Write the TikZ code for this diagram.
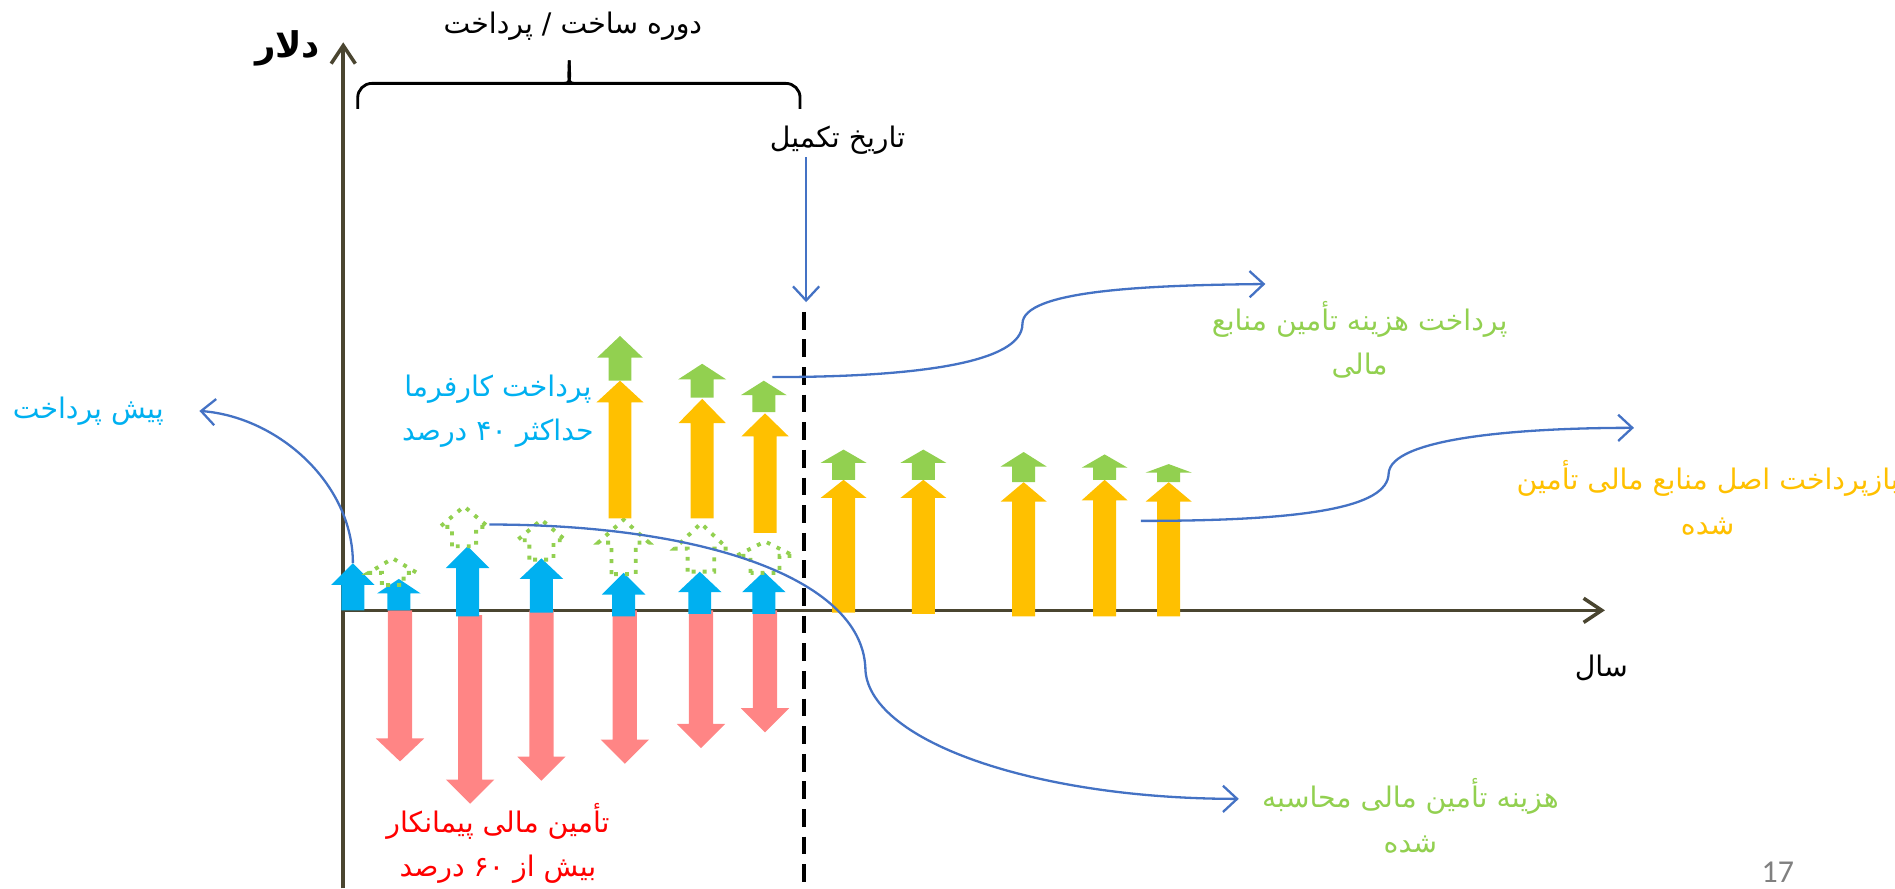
\documentclass[tikz,border=0pt]{standalone}
\usepackage{fontspec}
\newfontfamily\farsi[Script=Arabic]{DejaVu Sans}
\newfontfamily\slidefont{Carlito}
\TeXXeTstate=1
\usetikzlibrary{arrows.meta}
\definecolor{axiscol}{HTML}{4A4530}
\definecolor{payblue}{HTML}{00B0F0}
\definecolor{loanred}{HTML}{FF8585}
\definecolor{gold}{HTML}{FFC000}
\definecolor{leafgreen}{HTML}{92D050}
\definecolor{curveblue}{HTML}{4472C4}
\newcommand{\rtltext}[1]{\beginR #1\endR}
% #1 options, #2 x, #3 tail y, #4 head base y, #5 tip y, #6 head half width, #7 shaft half width
\newcommand{\blockarrow}[7]{\path[#1] (#2-#7,#3) -- (#2-#7,#4) -- (#2-#6,#4) -- (#2,#5) -- (#2+#6,#4) -- (#2+#7,#4) -- (#2+#7,#3) -- cycle;}
\tikzstyle{axisline} = [draw=axiscol, line width=1pt, -{Straight Barb[length=1.8mm,width=2.4mm]}]
\tikzstyle{pointer} = [draw=curveblue, line width=0.65pt, -{Straight Barb[length=1.4mm,width=2.6mm]}]
\tikzset{fatext/.style={font=\farsi\fontsize{8}{12.5}\selectfont, align=center, inner sep=0pt},
  dottedarrow/.style={draw=leafgreen, line width=1.1pt, dotted}}

\begin{document}
\begin{tikzpicture}[x=0.012cm, y=-0.012cm]
    \useasboundingbox (0,0) rectangle (1568,735);

    \coordinate (origin) at (284,505);
    \coordinate (ytop) at (284,35);
    \coordinate (ybot) at (284,735);
    \coordinate (xend) at (1328,505);
    \draw[axisline] (ybot) -- (ytop);
    \draw[axisline] (origin) -- (xend);

    % contractor financing
    \blockarrow{fill=loanred}{331}{505}{611}{630}{20}{10}
    \blockarrow{fill=loanred}{389}{509}{645}{665}{20}{10}
    \blockarrow{fill=loanred}{448}{505}{626}{646}{20}{10}
    \blockarrow{fill=loanred}{517}{505}{612}{632}{20}{10}
    \blockarrow{fill=loanred}{580}{505}{599}{619}{20}{10}
    \blockarrow{fill=loanred}{633}{505}{586}{606}{20}{10}

    % owner payments
    \blockarrow{fill=payblue}{292}{505}{484}{466}{18}{9.5}
    \blockarrow{fill=payblue}{330}{505}{491}{479}{18}{9.5}
    \blockarrow{fill=payblue}{387}{510}{470}{452}{18}{9.5}
    \blockarrow{fill=payblue}{448}{507}{479}{462}{18}{9.5}
    \blockarrow{fill=payblue}{516}{510}{492}{474}{18}{9.5}
    \blockarrow{fill=payblue}{579}{508}{490}{473}{18}{9.5}
    \blockarrow{fill=payblue}{632}{508}{490}{473}{18}{9.5}

    \blockarrow{dottedarrow}{325}{484}{474}{462}{20}{9}
    \blockarrow{dottedarrow}{384}{452}{436}{419}{20}{10}
    \blockarrow{dottedarrow}{448}{463}{447}{430}{20}{10}
    \blockarrow{dottedarrow}{516}{475}{449}{430}{21}{10}
    \blockarrow{dottedarrow}{580}{473}{454}{433}{22}{11}
    \blockarrow{dottedarrow}{633}{474}{460}{448}{24}{12}

    % principal and financing cost
    \blockarrow{fill=gold}{513}{429}{333}{315}{19.5}{9.5}
    \blockarrow{fill=gold}{581}{429}{350}{330}{19.5}{9.5}
    \blockarrow{fill=gold}{633}{441}{361}{342}{19.5}{9.5}
    \blockarrow{fill=gold}{698}{507}{412}{397}{19}{9.5}
    \blockarrow{fill=gold}{764}{508}{412}{397}{19}{9.5}
    \blockarrow{fill=gold}{847}{510}{415}{399}{19}{9.5}
    \blockarrow{fill=gold}{914}{510}{414}{397}{19}{9.5}
    \blockarrow{fill=gold}{967}{510}{415}{399}{19}{9.5}

    \blockarrow{fill=leafgreen}{513}{315}{296}{278}{19}{9.5}
    \blockarrow{fill=leafgreen}{581}{329}{314}{301}{20}{9.5}
    \blockarrow{fill=leafgreen}{632}{341}{327}{315}{19}{9.5}
    \blockarrow{fill=leafgreen}{698}{397}{383}{372}{19}{9.5}
    \blockarrow{fill=leafgreen}{764}{397}{383}{372}{19}{9.5}
    \blockarrow{fill=leafgreen}{847}{399}{386}{374}{19}{9.5}
    \blockarrow{fill=leafgreen}{914}{397}{387}{376}{19}{9.5}
    \blockarrow{fill=leafgreen}{967}{399}{391}{384}{19}{9.5}

    \coordinate (finish) at (665,258);
    \coordinate (finishbot) at (665,735);
    \draw[black, line width=1.1pt, dash pattern=on 5pt off 2.8pt] (finish) -- (finishbot);

    % labels
    \node[fatext, font=\farsi\bfseries\fontsize{10}{12}\selectfont] (dollar) at (238,40) {\rtltext{دلار}};
    \node[fatext] (year) at (1325,553) {\rtltext{سال}};
    \node[fatext] (period) at (474,22) {\rtltext{دوره ساخت / پرداخت}};
    \node[fatext] (compdate) at (693,116) {\rtltext{تاریخ تکمیل}};
    \node[fatext, text=payblue] (prepay) at (73,340) {\rtltext{پیش پرداخت}};
    \node[fatext, text=payblue] (ownerpay) at (412,340) {\rtltext{پرداخت کارفرما}\\\rtltext{حداکثر ۴۰ درصد}};
    \node[fatext, text=red] (contractor) at (412,698) {\rtltext{تأمین مالی پیمانکار}\\\rtltext{بیش از ۶۰ درصد}};
    \node[fatext, text=leafgreen] (finpay) at (1125,281) {\rtltext{پرداخت هزینه تأمین منابع}\\\rtltext{مالی}};
    \node[fatext, text=gold] (repay) at (1413,412) {\rtltext{بازپرداخت اصل منابع مالی تأمین}\\\rtltext{شده}};
    \node[fatext, text=leafgreen] (fincost) at (1167,675) {\rtltext{هزینه تأمین مالی محاسبه}\\\rtltext{شده}};
    \node[font=\slidefont\fontsize{9}{10}\selectfont, text=gray, inner sep=0pt] (pagenum) at (1471,722) {17};

    \draw[line width=0.8pt, rounded corners=4] (296,90) -- (296,69) -- (463,69) .. controls (469,69) and (471,62) .. (471,50);
    \draw[line width=0.8pt, rounded corners=4] (471,50) .. controls (471,62) and (473,69) .. (479,69) -- (662,69) -- (662,90);

    \coordinate (comptop) at (667,130);
    \coordinate (compend) at (667,250);
    \draw[pointer] (comptop) -- (compend);

    \coordinate (prepaystart) at (292,466);
    \coordinate (prepayend) at (165,340);
    \draw[pointer] (prepaystart) .. controls (292,400) and (230,345) .. (prepayend);

    \coordinate (coststart) at (405,434);
    \coordinate (costmid) at (716,552);
    \coordinate (costend) at (1025,661);
    \draw[pointer] (coststart) .. controls (580,434) and (712,478) .. (costmid) .. controls (716,612) and (854,661) .. (costend);

    \coordinate (finstart) at (639,312);
    \coordinate (finmid) at (846,268);
    \coordinate (finend) at (1047,235);
    \draw[pointer] (finstart) .. controls (760,312) and (846,300) .. (finmid) .. controls (846,240) and (950,236) .. (finend);

    \coordinate (repaystart) at (944,431);
    \coordinate (repaymid) at (1149,392);
    \coordinate (repayend) at (1352,354);
    \draw[pointer] (repaystart) .. controls (1080,431) and (1148,420) .. (repaymid) .. controls (1150,362) and (1260,354) .. (repayend);
\end{tikzpicture}
\end{document}
